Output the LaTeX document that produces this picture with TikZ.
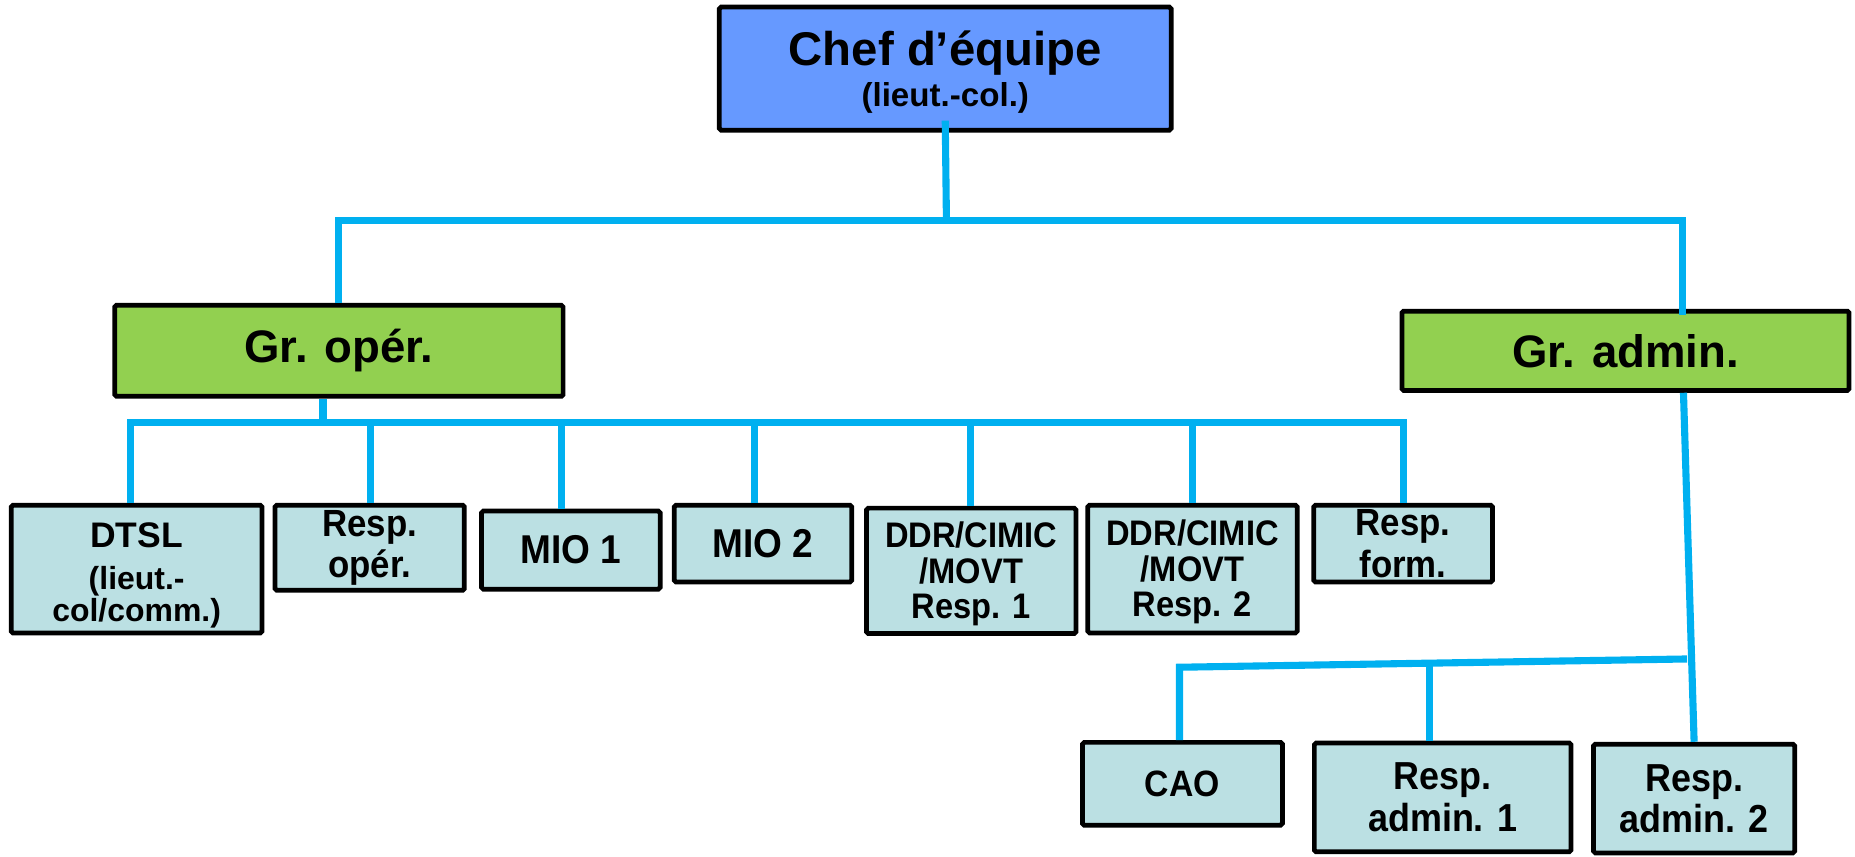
\documentclass[tikz,border=0pt]{standalone}
\usepackage{fontspec}
\setmainfont{Liberation Sans}
\newfontfamily\leaffont{Liberation Sans}[FakeStretch=0.92]
\usetikzlibrary{calc}
\definecolor{conncol}{HTML}{00B0F0}
\definecolor{chefcol}{HTML}{6699FF}
\definecolor{grcol}{HTML}{92D050}
\definecolor{boxcol}{HTML}{BBE0E3}
\newcommand{\fsz}[2]{\fontsize{#1}{#2}\selectfont\lineskiplimit=-100pt\relax}
\begin{document}
\begin{tikzpicture}[x=1pt,y=-1pt,
  conn/.style={draw=conncol,line width=6pt},
  orgbox/.style={draw=black,line width=4pt,rounded corners=1.5pt,inner sep=0pt,align=center,font=\bfseries},
  leaf/.style={orgbox,fill=boxcol,font=\leaffont\bfseries\fsz{32}{35}},
  grbox/.style={orgbox,fill=grcol,font=\bfseries\fsz{38.5}{44}}]
\useasboundingbox (0,0) rectangle (1568,724);
% nodes
\node[orgbox,fill=chefcol,minimum width=382pt,minimum height=104pt,font=\bfseries\fsz{40}{35}] (chef) at (799,58)
  {\rule{0pt}{35pt}Chef d’équipe\\{\fontsize{28}{35}\selectfont (lieut.-col.)}};
\node[grbox,minimum width=379pt,minimum height=77pt] (gop) at (286.5,296.5) {Gr. opér.};
\node[grbox,minimum width=378pt,minimum height=67pt] (gadm) at (1374,296.5) {Gr. admin.};
\node[orgbox,fill=boxcol,minimum width=212pt,minimum height=108pt,font=\bfseries\fsz{30}{27}] (dtsl) at (115.5,481)
  {\rule{0pt}{32pt}DTSL\\[9pt]{\fontsize{27}{27}\selectfont (lieut.-}\\{\fontsize{27}{27}\selectfont col/comm.)}};
\node[leaf,minimum width=160pt,minimum height=72pt] (rop) at (312.5,463) {Resp.\\opér.};
\node[leaf,minimum width=151pt,minimum height=66pt,font=\leaffont\bfseries\fsz{34}{36}] (mio1) at (482.5,465) {MIO 1};
\node[leaf,minimum width=150pt,minimum height=65pt,font=\leaffont\bfseries\fsz{34}{36}] (mio2) at (645,459.5) {MIO 2};
\node[leaf,minimum width=177pt,minimum height=106pt,font=\leaffont\bfseries\fsz{30}{30}] (ddr1) at (821,482.5) {\rule{0pt}{27pt}DDR/CIMIC\\/MOVT\\Resp. 1};
\node[leaf,minimum width=177pt,minimum height=108pt,font=\leaffont\bfseries\fsz{30}{30}] (ddr2) at (1008,481) {\rule{0pt}{27pt}DDR/CIMIC\\/MOVT\\Resp. 2};
\node[leaf,minimum width=151pt,minimum height=65pt] (rform) at (1186,459.5) {Resp.\\form.};
\node[leaf,minimum width=169pt,minimum height=70pt,font=\leaffont\bfseries\fsz{31}{35}] (cao) at (999.5,662.5) {CAO};
\node[leaf,minimum width=217pt,minimum height=92pt,font=\leaffont\bfseries\fsz{33}{35}] (radm1) at (1219.5,674) {Resp.\\admin. 1};
\node[leaf,minimum width=170pt,minimum height=92pt,font=\leaffont\bfseries\fsz{33}{35}] (radm2) at (1432,675) {Resp.\\admin. 2};
% bus coordinates
\coordinate (topbus) at (800,186);
\coordinate (opbus) at (273,357);
\coordinate (admL) at (997,564);
\coordinate (admR) at (1426,557);
% top level
\draw[conn] ([yshift=10pt]chef.south) -- (topbus);
\draw[conn] (gop.north) |- (topbus) -| ([yshift=-5pt]gadm.north -| 1422,0);
% operations group
\draw[conn] ([xshift=-13.5pt]gop.south) -- (opbus);
\draw[conn] (dtsl.north -| 110,0) |- (opbus) -| (rform.north);
\foreach \n/\xx in {rop/313,mio1/475,mio2/638,ddr1/820,ddr2/1008}
  \draw[conn] (\n.north -| \xx,0) -- (\xx,357);
% admin group
\draw[conn] (gadm.south -| 1423,0) -- (radm2.north);
\draw[conn] (cao.north -| admL) -- (admL) -- (admR);
\draw[conn] (radm1.north -| 1208,0) -- (1208,561);
\end{tikzpicture}
\end{document}
